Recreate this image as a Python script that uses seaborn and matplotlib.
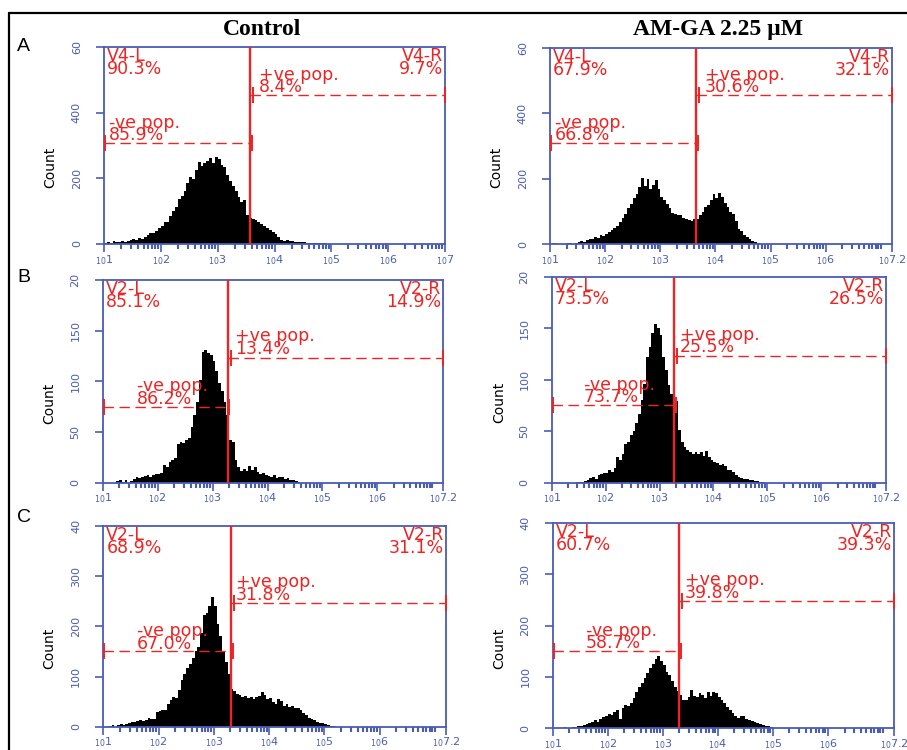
import numpy as np
import pandas as pd
import matplotlib
matplotlib.use("Agg")
import matplotlib.pyplot as plt
import seaborn as sns
from matplotlib.lines import Line2D

# histogram counts, log10 channel bins of width 0.05 starting at 10^1
bin_start = 1.0
bin_width = 0.05

counts_a_control = [4, 6, 3, 8, 5, 7, 9, 6, 10, 12,
                    14, 11, 18, 16, 22, 28, 35, 33, 40, 48,
                    55, 68, 66, 85, 101, 112, 137, 145, 160, 185,
                    203, 198, 225, 249, 238, 246, 252, 262, 248, 266,
                    259, 242, 234, 210, 193, 178, 160, 142, 128, 134,
                    88, 80, 76, 72, 66, 60, 54, 48, 42, 36,
                    30, 20, 12, 10, 11, 9, 8, 7, 6, 5,
                    5, 4, 4, 3, 3, 2, 3, 2, 1, 1]
counts_a_amga = [0, 3, 0, 0, 2, 0, 3, 4, 0, 5,
                 6, 10, 8, 12, 17, 15, 22, 20, 28, 26,
                 32, 38, 44, 50, 56, 68, 80, 93, 110, 124,
                 140, 155, 175, 203, 178, 200, 170, 182, 195, 170,
                 144, 135, 124, 110, 95, 93, 88, 90, 80, 76,
                 73, 70, 76, 78, 88, 98, 114, 120, 134, 155,
                 140, 158, 144, 125, 114, 100, 93, 70, 48, 40,
                 28, 22, 15, 9, 6, 3, 2, 1, 0, 0]
counts_b_control = [0, 0, 0, 0, 0, 2, 3, 1, 3, 0,
                    2, 4, 6, 5, 6, 7, 8, 6, 8, 9,
                    9, 10, 17, 15, 20, 22, 24, 38, 40, 39,
                    42, 44, 55, 67, 80, 101, 129, 131, 128, 126,
                    120, 110, 98, 90, 80, 67, 42, 40, 22, 15,
                    12, 14, 12, 16, 13, 15, 11, 9, 10, 8,
                    7, 6, 8, 5, 6, 6, 4, 5, 3, 3,
                    2, 1, 0, 0, 0, 0, 0, 0, 0, 0]
counts_b_amga = [0, 0, 0, 0, 0, 0, 0, 0, 0, 1,
                 1, 1, 2, 3, 5, 6, 4, 7, 8, 9,
                 9, 12, 10, 14, 25, 22, 28, 38, 40, 46,
                 50, 58, 67, 80, 96, 122, 132, 145, 154, 150,
                 143, 122, 109, 95, 86, 77, 79, 51, 40, 35,
                 32, 30, 28, 30, 28, 30, 26, 31, 25, 22,
                 20, 19, 17, 18, 16, 12, 12, 10, 7, 6,
                 5, 4, 4, 3, 3, 2, 2, 1, 1, 0]
counts_c_control = [0, 0, 2, 4, 0, 3, 5, 4, 6, 8,
                    10, 9, 12, 13, 11, 14, 17, 15, 16, 30,
                    32, 33, 34, 45, 53, 60, 58, 73, 93, 106,
                    116, 125, 136, 150, 159, 186, 223, 226, 240, 258,
                    240, 205, 180, 150, 128, 105, 76, 72, 66, 64,
                    60, 62, 58, 60, 56, 60, 62, 70, 64, 56,
                    58, 50, 46, 55, 52, 42, 45, 40, 41, 38,
                    37, 33, 27, 23, 18, 16, 13, 10, 8, 7,
                    5, 4, 2, 1]
counts_c_amga = [0, 0, 0, 0, 2, 0, 1, 3, 2, 4,
                 5, 7, 9, 11, 12, 16, 13, 18, 22, 24,
                 28, 26, 32, 36, 18, 40, 45, 44, 49, 58,
                 70, 80, 88, 98, 107, 118, 126, 135, 141, 130,
                 123, 110, 104, 92, 81, 72, 65, 55, 56, 61,
                 74, 62, 61, 68, 65, 58, 71, 63, 70, 68,
                 60, 55, 49, 42, 36, 30, 23, 20, 24, 23,
                 18, 16, 14, 12, 10, 8, 6, 5, 4, 2,
                 1, 0, 0, 0]

# gates: marker position (log10), -ve and +ve population levels (counts)
gate_x = [[3.57, 3.645], [3.277, 3.275], [3.31, 3.30]]
neg_level = [[308, 308], [75, 75], [150, 150]]
pos_level = [[454, 456], [123, 123], [246, 248]]

gate_names = [["V4-L", "V4-R"], ["V2-L", "V2-R"], ["V2-L", "V2-R"]]
left_pct = [["90.3%", "67.9%"], ["85.1%", "73.5%"], ["68.9%", "60.7%"]]
right_pct = [["9.7%", "32.1%"], ["14.9%", "26.5%"], ["31.1%", "39.3%"]]
neg_pct = [["85.9%", "66.8%"], ["86.2%", "73.7%"], ["67.0%", "58.7%"]]
pos_pct = [["8.4%", "30.6%"], ["13.4%", "25.5%"], ["31.8%", "39.8%"]]

y_max = [600, 200, 400]
y_ticks = [[0, 200, 400, 600], [0, 50, 100, 150, 200], [0, 100, 200, 300, 400]]
y_ticklabels = [["0", "200", "400", "60"], ["0", "50", "100", "150", "20"],
                ["0", "100", "200", "300", "40"]]
x_max = [[7.0, 7.2], [7.2, 7.2], [7.2, 7.2]]

col_titles = ["Control", "AM-GA 2.25 \u00b5M"]
row_letters = ["A", "B", "C"]

all_counts = [[counts_a_control, counts_a_amga],
              [counts_b_control, counts_b_amga],
              [counts_c_control, counts_c_amga]]

# layout in pixels of the 907x750 picture: (left, right, top, bottom)
W, H = 907, 750
boxes = [[(104, 445, 47, 244), (550, 892, 47.7, 244.3)],
         [(102.7, 443.3, 280, 482.7), (551.7, 886, 276.7, 482.7)],
         [(103.3, 446, 526, 726.7), (552.7, 894, 522.7, 728.3)]]
# text anchors in pixels (first baseline): +ve label, -ve label
pos_xy = [[(259, 80), (705, 80)], [(235, 341.7), (680, 340)], [(236, 587.3), (685, 585)]]
neg_xy = [[(109, 128), (555, 128)], [(136.7, 391), (584, 390)], [(136.7, 636.7), (586, 636)]]
LINE_STEP = 12.5  # pixels between the two baselines of a red label

BLUE = "#4a5cb5"
RED = "#ec2424"

sns.set_theme(style="white")
plt.rcParams["font.family"] = ["DejaVu Sans"]

fig = plt.figure(figsize=(W / 100, H / 100), dpi=100)


def put(ax, box, px, py, s, ha="left"):
    # two-line red label; 'baseline' anchors the last line, so shift by one step
    x0, x1, top, bot = box
    py = py + LINE_STEP
    ax.text((px - x0) / (x1 - x0), (bot - py) / (bot - top), s, transform=ax.transAxes,
            ha=ha, va="baseline", multialignment=ha, color=RED, fontsize=12.5,
            linespacing=0.63, clip_on=False, zorder=7)


for r in range(3):
    for c in range(2):
        x0, x1, top, bot = boxes[r][c]
        ax = fig.add_axes([x0 / W, 1 - bot / H, (x1 - x0) / W, (bot - top) / H])
        counts = all_counts[r][c]
        edges = [bin_start + bin_width * i for i in range(len(counts) + 1)]
        hist = pd.DataFrame({"channel": [e + bin_width / 2 for e in edges[:-1]],
                             "count": counts})
        sns.histplot(data=hist, x="channel", weights="count", bins=edges, element="step",
                     fill=True, color="black", alpha=1, linewidth=0, ax=ax)

        xm = x_max[r][c]
        ax.set_xlim(1, xm)
        ax.set_ylim(0, y_max[r])

        # gate marker and population bars
        gx = gate_x[r][c]
        ax.axvline(gx, color=RED, lw=1.7, zorder=5)
        nl, pl = neg_level[r][c], pos_level[r][c]
        ax.plot([1.0, gx], [nl, nl], color=RED, lw=1.0, dashes=(7.5, 4), zorder=5)
        ax.plot([gx, xm], [pl, pl], color=RED, lw=1.0, dashes=(7.5, 4), zorder=5)
        ax.plot([1.02, gx + 0.03], [nl, nl], ls="none", marker="|", ms=12, mew=1.4,
                color=RED, zorder=6, clip_on=False)
        ax.plot([gx + 0.05, xm], [pl, pl], ls="none", marker="|", ms=12, mew=1.4,
                color=RED, zorder=6, clip_on=False)

        box = boxes[r][c]
        put(ax, box, x0 + 3, top + 14.5, gate_names[r][0] + "\n" + left_pct[r][c])
        put(ax, box, x1 - 2, top + 14.5, gate_names[r][1] + "\n" + right_pct[r][c], ha="right")
        px, py = pos_xy[r][c]
        put(ax, box, px, py, "+ve pop.\n" + pos_pct[r][c])
        px, py = neg_xy[r][c]
        put(ax, box, px, py, "-ve pop.\n" + neg_pct[r][c])

        # log channel axis
        majors = list(range(1, 7)) + [xm]
        labels = [r"$\mathregular{_{10}%s}$" % ("%g" % m) for m in majors]
        minors = [n + np.log10(k) for n in range(1, 7) for k in range(2, 10)]
        if xm > 7:
            minors.append(7.0)
        ax.set_xticks(majors)
        ax.set_xticklabels(labels)
        ax.set_xticks(minors, minor=True)
        ax.set_yticks(y_ticks[r])
        ax.set_yticklabels(y_ticklabels[r], rotation=90, va="center")

        ax.tick_params(axis="both", which="both", direction="out", color=BLUE,
                       labelcolor=BLUE, width=1.2)
        ax.tick_params(axis="x", which="major", length=6, pad=0.3, labelsize=8)
        ax.tick_params(axis="x", which="minor", length=3.5, width=1.5)
        ax.tick_params(axis="y", which="major", length=6, pad=10, labelsize=8)
        ax.tick_params(bottom=True, left=True, which="both")
        for s in ax.spines.values():
            s.set_visible(True)
            s.set_color(BLUE)
            s.set_linewidth(1.3)

        ax.set_xlabel("")
        ax.set_ylabel("Count", fontsize=10, color="black", va="center")
        ax.yaxis.set_label_coords(-0.157, 0.39)

for c, title in enumerate(col_titles):
    fig.text([262, 718][c] / W, 1 - 35 / H, title, ha="center", va="baseline",
             family="Liberation Serif", weight="bold", fontsize=17, color="black")

for r, letter in enumerate(row_letters):
    fig.text(23.5 / W, 1 - [46.5, 278, 517.5][r] / H, letter, ha="center", va="center",
             family="Liberation Sans", fontsize=14, color="black")

# outer frame
fig.add_artist(Line2D([9 / W, 9 / W], [0, 1 - 13 / H], color="black", lw=1.6))
fig.add_artist(Line2D([9 / W, 1], [1 - 13 / H, 1 - 13 / H], color="black", lw=1.6))

fig.savefig("out.png", dpi=100)
